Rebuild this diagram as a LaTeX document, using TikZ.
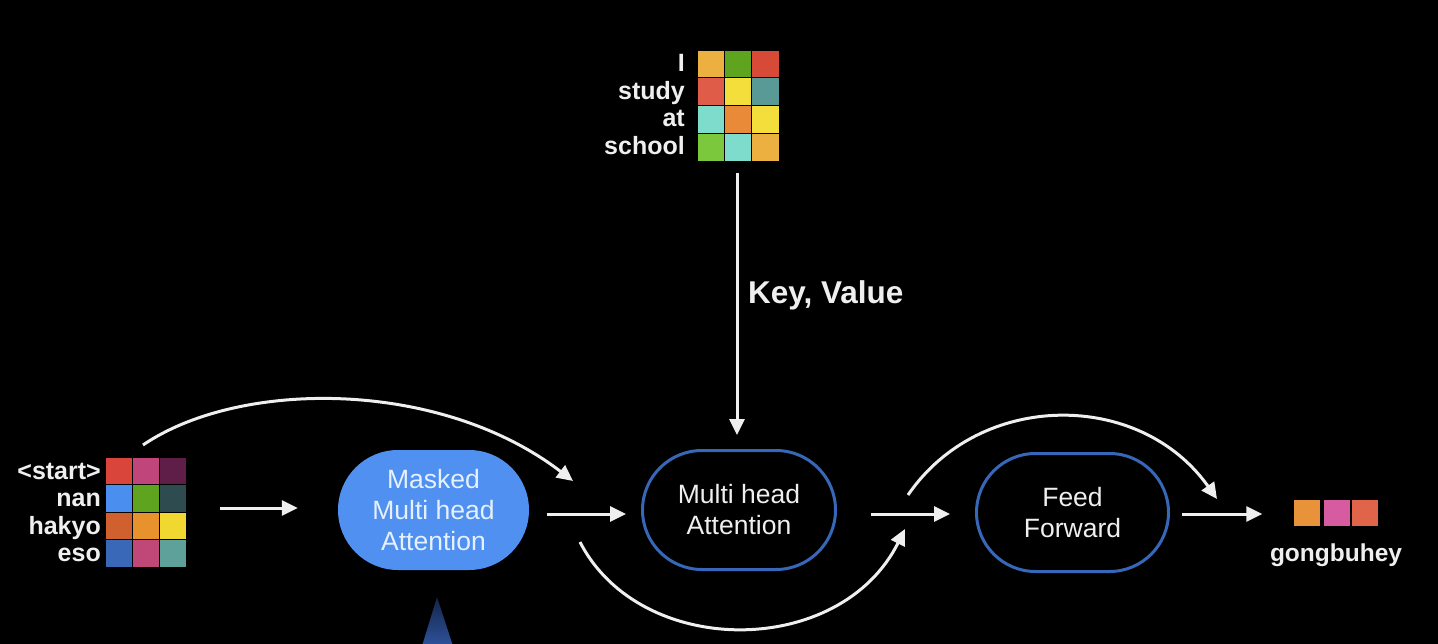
\documentclass[tikz,border=0pt]{standalone}
\usepackage{fontspec}
\setmainfont{Liberation Sans}
\usetikzlibrary{arrows.meta,fit,shapes.misc}
\definecolor{bg}{HTML}{000000}
\definecolor{txt}{HTML}{EFEFEF}
\definecolor{maskfill}{HTML}{4F90F0}
\definecolor{masktxt}{HTML}{E6F1FF}
\definecolor{outl}{HTML}{3767B8}
\definecolor{tri}{HTML}{2E529C}
\definecolor{triTop}{HTML}{142448}
% left matrix colours
\definecolor{a11}{HTML}{D9453A}\definecolor{a12}{HTML}{C0457A}\definecolor{a13}{HTML}{5E1E48}
\definecolor{a21}{HTML}{4A8EF0}\definecolor{a22}{HTML}{5EA41E}\definecolor{a23}{HTML}{2E4C50}
\definecolor{a31}{HTML}{D0602E}\definecolor{a32}{HTML}{E8922E}\definecolor{a33}{HTML}{F0D830}
\definecolor{a41}{HTML}{3A68B8}\definecolor{a42}{HTML}{C04878}\definecolor{a43}{HTML}{5EA09A}
% top matrix colours
\definecolor{b11}{HTML}{ECB040}\definecolor{b12}{HTML}{5EA41E}\definecolor{b13}{HTML}{D84A38}
\definecolor{b21}{HTML}{DE5C48}\definecolor{b22}{HTML}{F4DE3C}\definecolor{b23}{HTML}{5A9A96}
\definecolor{b31}{HTML}{7EDCCC}\definecolor{b32}{HTML}{E88A38}\definecolor{b33}{HTML}{F4DE3C}
\definecolor{b41}{HTML}{7CC83C}\definecolor{b42}{HTML}{7EDCCC}\definecolor{b43}{HTML}{ECB040}
% output colours
\definecolor{c1}{HTML}{E8923A}\definecolor{c2}{HTML}{D65BA0}\definecolor{c3}{HTML}{E0644A}
\tikzset{
  cell/.style={draw=black, line width=0.8pt, minimum width=27pt, minimum height=27.5pt, inner sep=0pt, outer sep=0pt},
  lbl/.style={text=txt, font=\fontsize{25}{25}\selectfont\bfseries, anchor=base east, inner sep=0pt},
  blk/.style={rounded rectangle, align=center, inner sep=0pt, font=\fontsize{26.5}{31}\selectfont},
  conn/.style={draw=txt, line width=3pt, -{Triangle[length=16pt,width=15pt]}},
}
\begin{document}
\begin{tikzpicture}[x=1pt,y=-1pt]
\fill[bg] (0,0) rectangle (1438,644);
\useasboundingbox (0,0) rectangle (1438,644);

% left matrix
\foreach \r/\w in {1/{<start>},2/nan,3/hakyo,4/eso}{
  \foreach \c in {1,2,3}{
    \node[cell, fill=a\r\c] (lm-\r-\c) at ({118.5+27*(\c-1)},{470.75+27.5*(\r-1)}) {};
  }
  \node[lbl] (lml-\r) at (101,{470.75+27.5*(\r-1)+8.5}) {\w};
}
\node[fit=(lm-1-1)(lm-4-3), inner sep=0pt] (lm) {};

% top matrix
\foreach \r/\w in {1/I,2/study,3/at,4/school}{
  \foreach \c in {1,2,3}{
    \node[cell, fill=b\r\c, minimum width=27.3pt, minimum height=27.75pt] (tm-\r-\c) at ({710.7+27.3*(\c-1)},{63.9+27.75*(\r-1)}) {};
  }
  \node[lbl] (tml-\r) at (685,{63.9+27.75*(\r-1)+7.5}) {\w};
}
\node[fit=(tm-1-1)(tm-4-3), inner sep=0pt] (tm) {};

% output
\node[cell, fill=c1, minimum height=27pt] (o1) at (1307,512.5) {};
\node[cell, fill=c2, minimum height=27pt] (o2) at (1336.5,512.5) {};
\node[cell, fill=c3, minimum height=27pt] (o3) at (1365,512.5) {};
\node[fit=(o1)(o3), inner sep=0pt] (out) {};
\node[text=txt, font=\fontsize{24.5}{24.5}\selectfont\bfseries, anchor=base, inner sep=0pt] (outl) at (1336,561) {gongbuhey};

% blocks
\node[blk, fill=maskfill, text=masktxt, minimum width=191pt, minimum height=120pt] (mask) at (433.5,510) {Masked\\Multi head\\Attention};
\node[blk, draw=outl, line width=3pt, text=txt, minimum width=193pt, minimum height=119pt] (mha) at (739,510) {Multi head\\Attention};
\node[blk, draw=outl, line width=3pt, text=txt, minimum width=192pt, minimum height=118pt] (ff) at (1072.5,512.5) {Feed\\Forward};

% key/value label
\node[text=txt, font=\fontsize{31.5}{31.5}\selectfont\bfseries, anchor=base west, inner sep=0pt] (kv) at (748,304) {Key, Value};

% free ends of residual connectors
\coordinate (r1s) at (143,445);
\coordinate (r1e) at (573,481);
\coordinate (r2s) at (580,542);
\coordinate (r2e) at (905,529);
\coordinate (r3s) at (908,495);
\coordinate (r3e) at (1217,499);

% straight connectors
\draw[conn, shorten <=34pt, shorten >=40pt] (lm.east |- 0,508) -- (mask.west |- 0,508);
\draw[conn, shorten <=18pt, shorten >=15pt] (mask.east |- 0,514) -- (mha.west |- 0,514);
\draw[conn, shorten <=34pt, shorten >=25pt] (mha.east |- 0,514) -- (ff.west |- 0,514);
\draw[conn, shorten <=12pt, shorten >=31pt] (ff.east |- 0,514) -- (out.west |- 0,514);
\draw[conn, shorten <=12pt, shorten >=14pt] (tm.south -| 737,0) -- (mha.north -| 737,0);

% curved residual connectors
\draw[conn] (r1s) .. controls (240,379) and (440,379) .. (r1e);
\draw[conn] (r2s) .. controls (640,659) and (840,659) .. (r2e);
\draw[conn] (r3s) .. controls (980,390) and (1140,390) .. (r3e);

% partial triangle at bottom
\shade[top color=triTop, bottom color=tri] (437,597) -- (453,646) -- (422,646) -- cycle;
\end{tikzpicture}
\end{document}
